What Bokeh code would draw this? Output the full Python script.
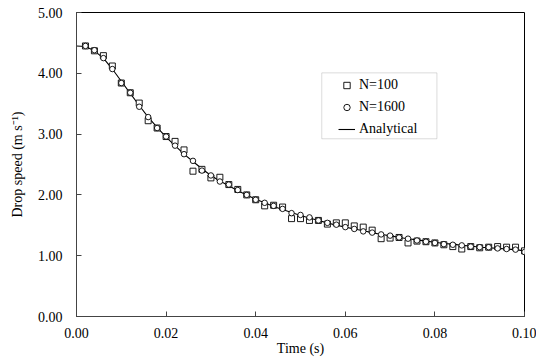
from bokeh.plotting import figure
from bokeh.models import (Range1d, FixedTicker, NumeralTickFormatter, Legend,
                          LegendItem, BoxAnnotation, ColumnDataSource)
from bokeh.embed import file_html
from bokeh.resources import INLINE

# ---- data ----
time_pts = [0.002, 0.004, 0.006, 0.008, 0.010, 0.012, 0.014, 0.016, 0.018, 0.020,
            0.022, 0.024, 0.026, 0.028, 0.030, 0.032, 0.034, 0.036, 0.038, 0.040,
            0.042, 0.044, 0.046, 0.048, 0.050, 0.052, 0.054, 0.056, 0.058, 0.060,
            0.062, 0.064, 0.066, 0.068, 0.070, 0.072, 0.074, 0.076, 0.078, 0.080,
            0.082, 0.084, 0.086, 0.088, 0.090, 0.092, 0.094, 0.096, 0.098, 0.100]

n100 = [4.45, 4.37, 4.29, 4.12, 3.84, 3.68, 3.51, 3.22, 3.10, 2.96,
        2.88, 2.74, 2.39, 2.42, 2.28, 2.29, 2.17, 2.09, 2.00, 1.92,
        1.82, 1.83, 1.80, 1.61, 1.61, 1.58, 1.58, 1.52, 1.54, 1.54,
        1.49, 1.47, 1.42, 1.28, 1.29, 1.30, 1.21, 1.24, 1.23, 1.21,
        1.18, 1.15, 1.11, 1.15, 1.13, 1.14, 1.15, 1.14, 1.14, 1.08]

n1600 = [4.45, 4.38, 4.25, 4.07, 3.84, 3.68, 3.45, 3.28, 3.10, 2.96,
         2.81, 2.67, 2.56, 2.40, 2.32, 2.22, 2.17, 2.08, 2.00, 1.92,
         1.87, 1.82, 1.77, 1.70, 1.67, 1.63, 1.58, 1.54, 1.51, 1.47,
         1.44, 1.40, 1.38, 1.35, 1.33, 1.30, 1.28, 1.25, 1.23, 1.21,
         1.19, 1.18, 1.17, 1.15, 1.14, 1.14, 1.12, 1.11, 1.10, 1.06]

time_an = [0.000, 0.002, 0.004, 0.006, 0.008, 0.010, 0.012, 0.014, 0.016, 0.018,
           0.020, 0.022, 0.024, 0.026, 0.028, 0.030, 0.032, 0.034, 0.036, 0.038,
           0.040, 0.042, 0.044, 0.046, 0.048, 0.050, 0.052, 0.054, 0.056, 0.058,
           0.060, 0.062, 0.064, 0.066, 0.068, 0.070, 0.072, 0.074, 0.076, 0.078,
           0.080, 0.082, 0.084, 0.086, 0.088, 0.090, 0.092, 0.094, 0.096, 0.098, 0.100]
analytical = [4.45, 4.44, 4.37, 4.25, 4.07, 3.87, 3.67, 3.47, 3.28, 3.11,
              2.95, 2.81, 2.67, 2.55, 2.43, 2.32, 2.23, 2.15, 2.07, 2.00,
              1.93, 1.87, 1.81, 1.76, 1.71, 1.66, 1.62, 1.58, 1.54, 1.50,
              1.47, 1.44, 1.41, 1.38, 1.35, 1.33, 1.30, 1.28, 1.26, 1.24,
              1.22, 1.20, 1.19, 1.17, 1.16, 1.14, 1.13, 1.12, 1.11, 1.10, 1.08]

x_ticks = [0.0, 0.02, 0.04, 0.06, 0.08, 0.10]
y_ticks = [0, 1, 2, 3, 4, 5]

FONT = "Liberation Serif"

p = figure(width=536, height=363, output_backend="svg", toolbar_location=None,
           x_range=Range1d(0, 0.1), y_range=Range1d(0, 5),
           min_border_left=76, min_border_right=12, min_border_top=12,
           min_border_bottom=47)
p.grid.visible = False
p.outline_line_color = "black"
p.outline_line_width = 1
p.background_fill_color = "white"
p.border_fill_color = "white"

for ax in (p.xaxis[0], p.yaxis[0]):
    ax.axis_line_color = "#444444"
    ax.major_tick_line_color = "#444444"
    ax.major_tick_in = 5
    ax.major_tick_out = 0
    ax.minor_tick_line_color = None
    ax.major_label_text_font = FONT
    ax.major_label_text_font_size = "14px"
    ax.major_label_text_color = "black"
    ax.axis_label_text_font = FONT
    ax.axis_label_text_font_size = "14px"
    ax.axis_label_text_font_style = "normal"
    ax.axis_label_text_color = "black"
    ax.formatter = NumeralTickFormatter(format="0.00")

p.xaxis[0].ticker = FixedTicker(ticks=x_ticks)
p.yaxis[0].ticker = FixedTicker(ticks=y_ticks)
p.xaxis[0].axis_label = "Time (s)"
p.yaxis[0].axis_label = "Drop speed (m s\u207b\u00b9)"
p.xaxis[0].major_label_standoff = 11
p.xaxis[0].axis_label_standoff = 0
p.yaxis[0].major_label_standoff = 14
p.yaxis[0].axis_label_standoff = 10

src_an = ColumnDataSource(dict(t=time_an, v=analytical))
src_pts = ColumnDataSource(dict(t=time_pts, a=n100, b=n1600))

r_line = p.line("t", "v", source=src_an, line_color="black", line_width=1.1)
r_sq = p.scatter("t", "a", source=src_pts, marker="square", size=6,
                 line_color="black", line_width=0.9, fill_color="white")
r_ci = p.scatter("t", "b", source=src_pts, marker="circle", size=5.5,
                 line_color="black", line_width=0.9, fill_color="white")

legend = Legend(items=[LegendItem(label="N=100", renderers=[r_sq]),
                       LegendItem(label="N=1600", renderers=[r_ci]),
                       LegendItem(label="Analytical", renderers=[r_line])],
                location=(262, 179), padding=0, margin=0, spacing=6,
                label_height=16, glyph_height=16, glyph_width=17,
                label_standoff=4, border_line_alpha=0,
                background_fill_alpha=0,
                label_text_font=FONT, label_text_font_size="14px",
                label_text_color="black")
p.add_layout(legend, "center")

# legend frame
p.add_layout(BoxAnnotation(left=0.05475, right=0.08045, top=4.007, bottom=2.923,
                           fill_alpha=0, line_color="#888888", line_width=1,
                           level="underlay"))

open("out.html", "w").write(file_html(p, INLINE))
